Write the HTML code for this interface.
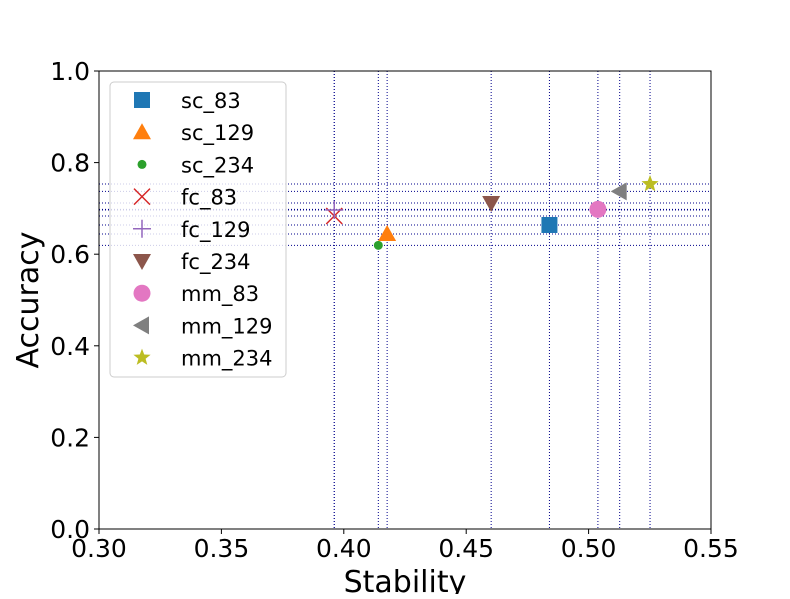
<!DOCTYPE html>
<html><head><meta charset="utf-8"><style>
body{margin:0;background:#fff}
svg text{font-family:"DejaVu Sans","Liberation Sans",sans-serif}
</style></head><body>
<svg id="c" width="790" height="594"></svg>
<script>
const labels=["sc_83","sc_129","sc_234","fc_83","fc_129","fc_234","mm_83","mm_129","mm_234"];
const stability=[0.4840,0.4177,0.4141,0.3961,0.3961,0.4602,0.5038,0.5127,0.5251];
const accuracy=[0.6638,0.6441,0.6194,0.6834,0.6965,0.7117,0.6980,0.7373,0.7533];
const xTicks=["0.30","0.35","0.40","0.45","0.50","0.55"];
const yTicks=["0.0","0.2","0.4","0.6","0.8","1.0"];
const colors=["#1f77b4","#ff7f0e","#2ca02c","#d62728","#9467bd","#8c564b","#e377c2","#7f7f7f","#bcbd22"];
const shapes=["square","tri-up","dot","x","plus","tri-down","circle","tri-left","star"];
const L=99,R=711,T=71,B=529;
const sx=v=>L+(v-0.30)/0.25*(R-L);
const sy=v=>B-v*(B-T);
const svg=document.getElementById('c');
const NS="http://www.w3.org/2000/svg";
function mk(t,a,p){const e=document.createElementNS(NS,t);for(const k in a)e.setAttribute(k,a[k]);(p||svg).appendChild(e);return e;}
const g=mk('g',{});


for(let i=0;i<labels.length;i++){
  const v=mk('line',{x1:sx(stability[i]),x2:sx(stability[i]),y1:T,y2:B,stroke:'#00008b','stroke-width':1,'stroke-dasharray':'1,2'},g);
  
  
  const h=mk('line',{x1:L,x2:R,y1:sy(accuracy[i]),y2:sy(accuracy[i]),stroke:'#00008b','stroke-width':1,'stroke-dasharray':'1,2'},g);
  
  
}
function marker(shape,x,y,c,parent){
  let e;
  if(shape==='square')e=mk('rect',{x:x-8,y:y-8,width:16,height:16,fill:c},parent);
  else if(shape==='tri-up')e=mk('polygon',{points:`${x},${y-9} ${x+9},${y+7} ${x-9},${y+7}`,fill:c},parent);
  else if(shape==='tri-down')e=mk('polygon',{points:`${x},${y+9} ${x+9},${y-7} ${x-9},${y-7}`,fill:c},parent);
  else if(shape==='tri-left')e=mk('polygon',{points:`${x-9},${y} ${x+7},${y-9} ${x+7},${y+9}`,fill:c},parent);
  else if(shape==='dot')e=mk('circle',{cx:x,cy:y,r:4.5,fill:c},parent);
  else if(shape==='circle')e=mk('circle',{cx:x,cy:y,r:8.5,fill:c},parent);
  else if(shape==='x')e=mk('path',{d:`M${x-8},${y-8}L${x+8},${y+8}M${x-8},${y+8}L${x+8},${y-8}`,stroke:c,'stroke-width':1.5,fill:'none'},parent);
  else if(shape==='plus')e=mk('path',{d:`M${x-9},${y}L${x+9},${y}M${x},${y-9}L${x},${y+9}`,stroke:c,'stroke-width':1.5,fill:'none'},parent);
  else {let p=[];for(let k=0;k<10;k++){const r=k%2?3.8:9,a=-Math.PI/2+k*Math.PI/5;p.push((x+r*Math.cos(a)).toFixed(1)+','+(y+r*Math.sin(a)).toFixed(1));}
    e=mk('polygon',{points:p.join(' '),fill:c},parent);}
  return e;
}
for(let i=0;i<labels.length;i++){
  const m=marker(shapes[i],sx(stability[i]),sy(accuracy[i]),colors[i]);
  
  
}
const f=mk('rect',{x:L,y:T,width:R-L,height:B-T,fill:'none',stroke:'#000','stroke-width':1});


xTicks.forEach(t=>{const x=sx(parseFloat(t));
  mk('line',{x1:x,x2:x,y1:B,y2:B+5,stroke:'#000'});
  const tx=mk('text',{x:x,y:B+28,'font-size':25,'text-anchor':'middle'});tx.textContent=t;
  
  });
yTicks.forEach(t=>{const y=sy(parseFloat(t));
  mk('line',{x1:L-5,x2:L,y1:y,y2:y,stroke:'#000'});
  const tx=mk('text',{x:L-9,y:y+9,'font-size':25,'text-anchor':'end'});tx.textContent=t;
  
  });
const xt=mk('text',{x:405,y:592,'font-size':30,'text-anchor':'middle'});xt.textContent='Stability';


const yt=mk('text',{x:0,y:0,'font-size':30,'text-anchor':'middle',transform:'translate(38,300) rotate(-90)'});yt.textContent='Accuracy';


const lg=mk('g',{});


mk('rect',{x:110,y:82,width:176,height:295,rx:4,fill:'#fff','fill-opacity':0.8,stroke:'#ccc'},lg);
for(let i=0;i<labels.length;i++){
  const y=100+i*32.2;
  const m=marker(shapes[i],142,y,colors[i],lg);
  
  
  const t=mk('text',{x:181,y:y+8,'font-size':21},lg);t.textContent=labels[i];
  
  
}
</script>
</body></html>
